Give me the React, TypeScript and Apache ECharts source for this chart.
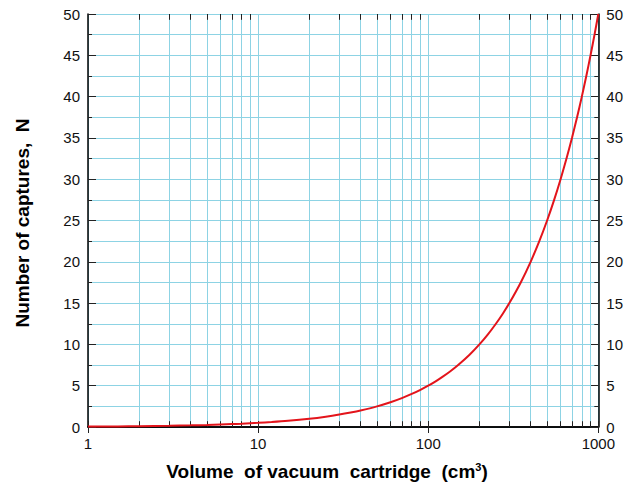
import React, { useEffect, useRef } from "react";
import * as echarts from "echarts";

const volumes = [1, 1.5, 2, 3, 4, 5, 6, 7, 8, 9, 10, 12, 15, 20, 25, 30, 35, 40, 50, 60, 70, 80, 90, 100, 110, 120, 135, 150, 175, 200, 225, 250, 275, 300, 350, 400, 450, 500, 550, 600, 650, 700, 750, 800, 850, 900, 950, 1000];
const captures = [0.05, 0.075, 0.1, 0.15, 0.2, 0.25, 0.3, 0.35, 0.4, 0.45, 0.5, 0.6, 0.75, 1, 1.25, 1.5, 1.75, 2, 2.5, 3, 3.5, 4, 4.5, 5, 5.5, 6, 6.75, 7.5, 8.75, 10, 11.25, 12.5, 13.75, 15, 17.5, 20, 22.5, 25, 27.5, 30, 32.5, 35, 37.5, 40, 42.5, 45, 47.5, 50];
const minorX = [2, 3, 4, 5, 6, 7, 8, 9, 20, 30, 40, 50, 60, 70, 80, 90, 200, 300, 400, 500, 600, 700, 800, 900];

const GRID_COLOR = "#8dd3e4";
const FONT = "Liberation Sans, Arial, sans-serif";

export default function App() {
  const ref = useRef<HTMLDivElement>(null);
  useEffect(() => {
    if (!ref.current) return;
    const chart = echarts.init(ref.current, undefined, { renderer: "svg" });
    const gridLines = minorX.map((v) => ({ xAxis: v, lineStyle: { color: GRID_COLOR, width: 1, type: "solid" } }));
    const tickLen = 0.7;
    const ticks: any[] = [];
    minorX.forEach((v) => {
      ticks.push([{ coord: [v, 0], lineStyle: { color: "#222", width: 1, type: "solid" } }, { coord: [v, tickLen] }]);
      ticks.push([{ coord: [v, 50], lineStyle: { color: "#222", width: 1, type: "solid" } }, { coord: [v, 50 - tickLen] }]);
    });
    const yAxisBase = {
      type: "value",
      min: 0,
      max: 50,
      interval: 5,
      axisLine: { show: true, lineStyle: { color: "#000", width: 1.5 } },
      axisTick: { show: true, inside: true, length: 8, lineStyle: { color: "#222" } },
      minorTick: { show: true, splitNumber: 2, length: 4, lineStyle: { color: "#222" } },
      splitLine: { show: true, lineStyle: { color: GRID_COLOR, width: 1 } },
      minorSplitLine: { show: true, lineStyle: { color: GRID_COLOR, width: 1 } },
      axisLabel: { show: true, fontSize: 15, fontFamily: FONT, color: "#111", margin: 8 },
    };
    chart.setOption({
      animation: false,
      grid: { left: 88, right: 27, top: 14, bottom: 64 },
      xAxis: [
        {
          type: "log",
          logBase: 10,
          min: 1,
          max: 1000,
          position: "bottom",
          axisLine: { show: true, lineStyle: { color: "#000", width: 1.5 } },
          axisTick: { show: true, inside: true, length: 6, lineStyle: { color: "#222" } },
          splitLine: { show: true, lineStyle: { color: GRID_COLOR, width: 1 } },
          axisLabel: {
            show: true,
            fontSize: 15,
            fontFamily: FONT,
            color: "#111",
            margin: 9,
            formatter: (v: number) => String(Math.round(v)),
          },
        },
        {
          type: "log",
          logBase: 10,
          min: 1,
          max: 1000,
          position: "top",
          axisLine: { show: true, lineStyle: { color: "#000", width: 1.5 } },
          axisTick: { show: true, inside: true, length: 6, lineStyle: { color: "#222" } },
          splitLine: { show: false },
          axisLabel: { show: false },
        },
      ],
      yAxis: [
        { ...yAxisBase, position: "left" },
        { ...yAxisBase, position: "right", splitLine: { show: false }, minorSplitLine: { show: false } },
      ],
      series: [
        {
          type: "line",
          xAxisIndex: 0,
          yAxisIndex: 0,
          data: volumes.map((v, i) => [v, captures[i]]),
          showSymbol: false,
          smooth: 0.3,
          lineStyle: { color: "#e3141b", width: 2 },
          z: 5,
          markLine: {
            silent: true,
            symbol: "none",
            label: { show: false },
            animation: false,
            z: 1,
            data: [...gridLines, ...ticks],
          },
        },
      ],
      graphic: [
        {
          type: "text",
          x: 22,
          y: 223,
          rotation: Math.PI / 2,
          style: {
            text: "Number of captures,  N",
            font: `bold 19px ${FONT}`,
            fill: "#000",
            align: "center",
            verticalAlign: "middle",
          },
        },
        {
          type: "text",
          x: 327,
          y: 471,
          style: {
            text: "{t|Volume  of vacuum  cartridge  (cm}{s|3}{t|)}",
            fill: "#000",
            align: "center",
            verticalAlign: "middle",
            rich: {
              t: { font: `bold 19px ${FONT}`, fill: "#000" },
              s: { font: `bold 11px ${FONT}`, fill: "#000", verticalAlign: "top", padding: [0, 0, 9, 0] },
            },
          },
        },
      ],
    });
    return () => chart.dispose();
  }, []);
  return <div ref={ref} style={{ width: 626, height: 491, position: "absolute", left: 0, top: 0 }} />;
}
